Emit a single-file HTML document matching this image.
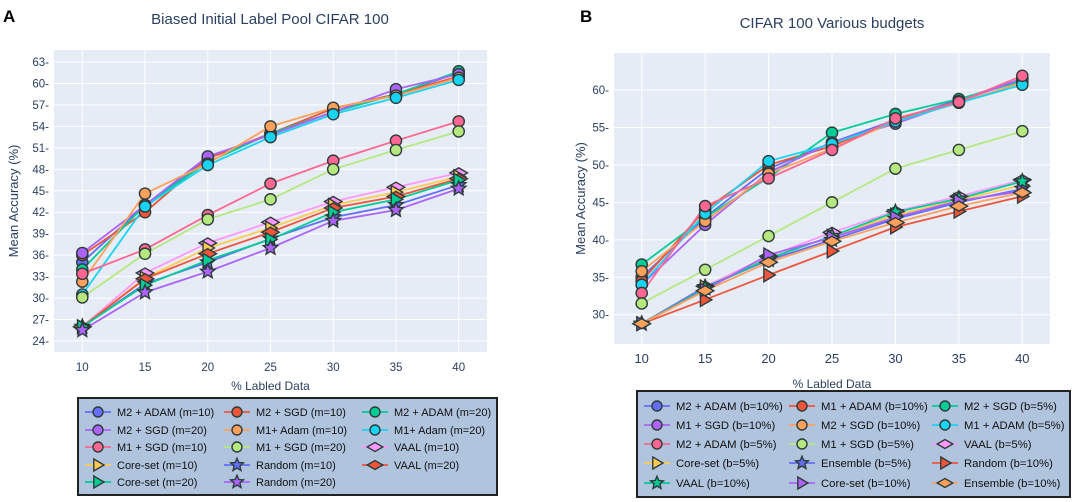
<!DOCTYPE html>
<html><head><meta charset="utf-8"><style>
html,body{margin:0;padding:0;background:#fff;width:1084px;height:502px;overflow:hidden}
svg{font-family:"Liberation Sans",sans-serif}
</style></head><body>
<svg id="s" width="1084" height="502" xmlns="http://www.w3.org/2000/svg"></svg>
<script>
const xCats=[10,15,20,25,30,35,40];
const leftYTicks=[24,27,30,33,36,39,42,45,48,51,54,57,60,63];
const rightYTicks=[30,35,40,45,50,55,60];
const leftNames=["M2 + ADAM (m=10)","M2 + SGD (m=10)","M2 + ADAM (m=20)","M2 + SGD (m=20)","M1+ Adam (m=10)","M1+ Adam (m=20)","M1 + SGD (m=10)","M1 + SGD (m=20)","VAAL (m=10)","Core-set (m=10)","Random (m=10)","VAAL (m=20)","Core-set (m=20)","Random (m=20)"];
const leftColors=["#636efa","#EF553B","#00cc96","#ab63fa","#FFA15A","#19d3f3","#FF6692","#B6E880","#FF97FF","#FECB52","#636efa","#EF553B","#00cc96","#ab63fa"];
const leftSymbols=["circle","circle","circle","circle","circle","circle","circle","circle","diamond","tri","star","diamond","tri","star"];
const leftValues=[
[35,43,49.5,53,56,58.5,61.5],
[36,42,49.5,53,56.5,58.5,61],
[34,43,49,53,56,58.5,61.7],
[36.3,43,49.8,52.8,56,59.2,61.3],
[32.3,44.6,48.8,54,56.6,58.3,60.8],
[30.5,42.8,48.6,52.5,55.7,58,60.5],
[33.4,36.8,41.6,46,49.2,52,54.7],
[30.1,36.2,41,43.8,48,50.7,53.3],
[26,33.5,37.7,40.6,43.5,45.5,47.5],
[26,32.8,37,39.8,43,44.8,47],
[26,32,35,38.3,41.3,43,45.8],
[26,32.7,36.2,39.2,42.6,44.2,46.7],
[26,31.8,35.3,38.2,42,43.8,46.5],
[25.5,30.8,33.7,37,40.8,42.3,45.3]];
const rightNames=["M2 + ADAM (b=10%)","M1 + ADAM (b=10%)","M2 + SGD (b=5%)","M1 + SGD (b=10%)","M2 + SGD (b=10%)","M1 + ADAM (b=5%)","M2 + ADAM (b=5%)","M1 + SGD (b=5%)","VAAL (b=5%)","Core-set (b=5%)","Ensemble (b=5%)","Random (b=10%)","VAAL (b=10%)","Core-set (b=10%)","Ensemble (b=10%)"];
const rightColors=["#636efa","#EF553B","#00cc96","#ab63fa","#FFA15A","#19d3f3","#FF6692","#B6E880","#FF97FF","#FECB52","#636efa","#EF553B","#00cc96","#ab63fa","#FFA15A"];
const rightSymbols=["circle","circle","circle","circle","circle","circle","circle","circle","diamond","tri","star","tri","star","tri","diamond"];
const rightValues=[
[35,43,49.5,53,56,58.7,61.5],
[34.5,44,50,52.5,56,58.5,61.5],
[36.7,43,48.3,54.3,56.8,58.8,61.2],
[34,42,49,53,55.5,58.5,61.5],
[35.8,42.5,48.8,52.2,55.8,58.3,61],
[34,43.5,50.5,52.8,55.8,58.3,60.7],
[32.9,44.5,48.2,52,56.2,58.4,61.9],
[31.5,36,40.5,45,49.5,52,54.5],
[28.8,33.8,37.8,41,43.8,45.8,48],
[28.8,33.7,37.5,40.5,43.3,45.3,47.3],
[28.8,33.7,37.3,40,42.8,45,46.8],
[28.8,32,35.3,38.5,41.7,43.8,45.8],
[28.8,33.5,37.5,40.5,43.7,45.5,47.8],
[28.8,33.3,38,40.3,43,45.2,46.5],
[28.8,33.2,37,39.8,42.3,44.5,46.3]];

const NS="http://www.w3.org/2000/svg";
const svg=document.getElementById('s');
function mk(tag,attrs,parent){const e=document.createElementNS(NS,tag);for(const k in attrs)e.setAttribute(k,attrs[k]);(parent||svg).appendChild(e);return e;}
function marker(sym,cx,cy,color,size,parent){
  let e;
  if(sym==="circle"){e=mk('circle',{cx:cx,cy:cy,r:size},parent);}
  else if(sym==="diamond"){const s=size*1.2;e=mk('path',{d:`M${cx-s*1.3},${cy}L${cx},${cy-s*0.75}L${cx+s*1.3},${cy}L${cx},${cy+s*0.75}Z`},parent);}
  else if(sym==="tri"){const s=size*1.2;e=mk('path',{d:`M${cx-s*0.7},${cy-s}L${cx+s},${cy}L${cx-s*0.7},${cy+s}Z`},parent);}
  else {const R=size*1.35,r=R*0.45;let d="";for(let i=0;i<10;i++){const a=-Math.PI/2+i*Math.PI/5;const rr=i%2?r:R;d+=(i?"L":"M")+(cx+rr*Math.cos(a)).toFixed(1)+","+(cy+rr*Math.sin(a)).toFixed(1);}e=mk('path',{d:d+"Z"},parent);}
  e.setAttribute('fill',color);e.setAttribute('stroke','#2f3b3b');e.setAttribute('stroke-width','1.4');
  return e;
}
function chart(o){
  const g=mk('g',{});
  
  
  const px0=o.x0,px1=o.x1,py0=o.y0,py1=o.y1;
  const sx=v=>o.xa+(v-10)*(o.xb-o.xa)/30;
  const sy=v=>o.ya+(v-o.yva)*(o.yb-o.ya)/(o.yvb-o.yva);
  const bg=mk('rect',{x:px0,y:py0,width:px1-px0,height:py1-py0,fill:'#e5ecf6'},g);
  
  xCats.forEach(c=>{mk('line',{x1:sx(c),x2:sx(c),y1:py0,y2:py1,stroke:'#fff','stroke-width':1},g);
    const t=mk('text',{x:sx(c),y:py1+19,'text-anchor':'middle','font-size':o.xfs,fill:'#2a3f5f'},g);t.textContent=c;
    });
  o.yt.forEach(v=>{mk('line',{x1:px0,x2:px1,y1:sy(v),y2:sy(v),stroke:'#fff','stroke-width':1},g);
    const t=mk('text',{x:px0-5,y:sy(v)+4,'text-anchor':'end','font-size':11.5,fill:'#2a3f5f'},g);t.textContent=v+"-";
    });
  o.vals.forEach((arr,i)=>{
    const p=mk('polyline',{points:arr.map((v,j)=>sx(xCats[j])+","+sy(v)).join(" "),fill:'none',stroke:o.cols[i],'stroke-width':1.8},g);
    
  });
  o.vals.forEach((arr,i)=>{arr.forEach((v,j)=>{const m=marker(o.syms[i],sx(xCats[j]),sy(v),o.cols[i],5.6,g);
    });});
  const tt=mk('text',{x:o.tx,y:o.ty,'text-anchor':'middle','font-size':15,fill:'#2a3f5f'},g);tt.textContent=o.title;
  
  const xl=mk('text',{x:(px0+px1)/2,y:o.xly,'text-anchor':'middle','font-size':12,fill:'#2a3f5f'},g);xl.textContent="% Labled Data";
  
  const yl=mk('text',{x:0,y:0,'text-anchor':'middle','font-size':13,fill:'#2a3f5f',transform:`translate(${o.ylx},${(py0+py1)/2}) rotate(-90)`},g);yl.textContent="Mean Accuracy (%)";
  
  const pl=mk('text',{x:o.lx,y:22,'font-size':17,'font-weight':'bold',fill:'#000'},g);pl.textContent=o.letter;
  
  const L=o.leg;
  const lb=mk('rect',{x:L.x,y:L.y,width:L.w,height:L.h,fill:'#b0c4de',stroke:'#222','stroke-width':2},g);
  
  o.names.forEach((n,i)=>{
    const r=Math.floor(i/3),c=i%3;const mx=L.cx[c],my=L.ry[r];
    const lg=mk('g',{},g);
    
    mk('line',{x1:mx-13,x2:mx+13,y1:my,y2:my,stroke:o.cols[i],'stroke-width':1.8},lg);
    marker(o.syms[i],mx,my,o.cols[i],5,lg);
    const t=mk('text',{x:mx+19,y:my+4,'font-size':L.fs,fill:'#111'},lg);t.textContent=n;
  });
}
chart({name:'left-chart',x0:54,x1:487,y0:50,y1:352,xa:82.3,xb:458.7,ya:62,yva:63,yb:341,yvb:24,yt:leftYTicks,xfs:11.5,
  vals:leftValues,cols:leftColors,syms:leftSymbols,names:leftNames,title:"Biased Initial Label Pool CIFAR 100",tx:270,ty:24,
  xly:390,ylx:18,lx:3,letter:"A",leg:{x:78,y:398,w:419,h:97,fs:11,cx:[98,237,375],ry:[412,430,447,465,482]}});
chart({name:'right-chart',x0:614,x1:1050,y0:53,y1:344,xa:641.7,xb:1022.3,ya:90,yva:60,yb:314.7,yvb:30,yt:rightYTicks,xfs:13,
  vals:rightValues,cols:rightColors,syms:rightSymbols,names:rightNames,title:"CIFAR 100 Various budgets",tx:832,ty:28,
  xly:388,ylx:585,lx:580,letter:"B",leg:{x:637,y:391,w:433,h:106,fs:11.3,cx:[657,802,945],ry:[406,425,444,463,483]}});
</script>
</body></html>
